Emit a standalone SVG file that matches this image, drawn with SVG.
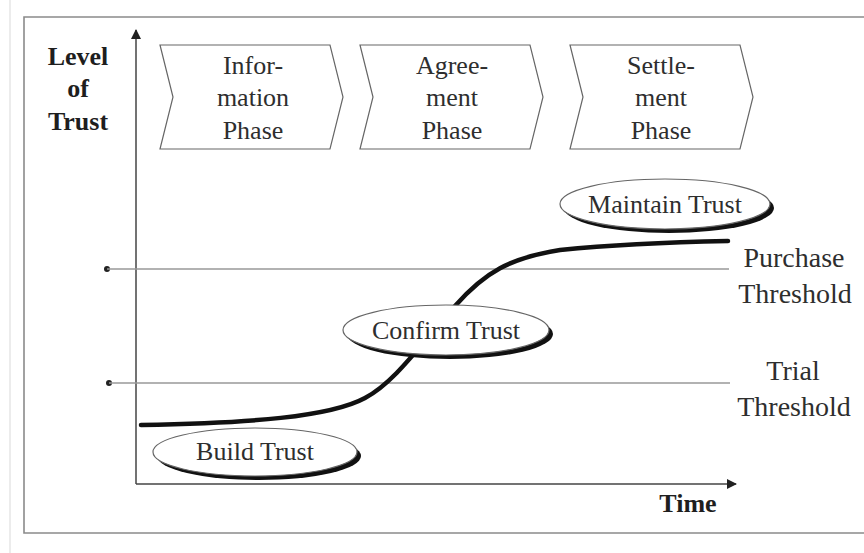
<svg xmlns="http://www.w3.org/2000/svg" width="864" height="553" viewBox="0 0 864 553">
  <defs>
    <marker id="arrow" viewBox="0 0 10 10" refX="9" refY="5" markerWidth="10" markerHeight="10" markerUnits="userSpaceOnUse" orient="auto">
      <path d="M0,0 L10,5 L0,10 z" fill="#222"/>
    </marker>
  </defs>
  <style>
    text { font-family: "Liberation Serif", "Times New Roman", serif; fill: #2e2e2e; }
    .axisLabel { font-weight: bold; font-size: 26px; fill: #1e1e1e; }
    .phase { font-size: 26px; text-anchor: middle; }
    .chev { fill: #fff; stroke: #666; stroke-width: 1.2; }
    .thr { stroke: #999; stroke-width: 1.3; fill: none; }
    .thrLabel { font-size: 28px; text-anchor: middle; }
    .ovalShadow { fill: #111; }
    .oval { fill: #fff; stroke: #666; stroke-width: 1.2; }
    .ovalText { font-size: 26px; text-anchor: middle; }
    .axis { stroke: #444; stroke-width: 1.5; fill: none; }
  </style>

  <rect width="864" height="553" fill="#fff"/>
  <!-- paper edge -->
  <line x1="10" y1="0" x2="10" y2="553" stroke="#e6e6e6" stroke-width="1.5"/>
  <!-- outer frame -->
  <path d="M864,17 H24 V533 H864" fill="none" stroke="#8a8a8a" stroke-width="1.6"/>

  <!-- axes -->
  <g id="axes">
    <line class="axis" x1="136" y1="484" x2="136" y2="30" marker-end="url(#arrow)"/>
    <line class="axis" x1="136" y1="484" x2="736" y2="484" marker-end="url(#arrow)"/>
    <text class="axisLabel" x="78" y="65" text-anchor="middle">Level</text>
    <text class="axisLabel" x="78" y="97" text-anchor="middle">of</text>
    <text class="axisLabel" x="78" y="130" text-anchor="middle">Trust</text>
    <text class="axisLabel" x="688" y="512" text-anchor="middle">Time</text>
  </g>

  <!-- phases -->
  <g id="phase-information">
    <path class="chev" d="M160,45 H330 L343,97 L330,149 H160 L173,97 z"/>
    <text class="phase" x="253" y="74">Infor-</text>
    <text class="phase" x="253" y="106">mation</text>
    <text class="phase" x="253" y="139">Phase</text>
  </g>
  <g id="phase-agreement">
    <path class="chev" d="M360,45 H530 L543,97 L530,149 H360 L373,97 z"/>
    <text class="phase" x="452" y="74">Agree-</text>
    <text class="phase" x="452" y="106">ment</text>
    <text class="phase" x="452" y="139">Phase</text>
  </g>
  <g id="phase-settlement">
    <path class="chev" d="M570,45 H740 L753,97 L740,149 H570 L583,97 z"/>
    <text class="phase" x="661" y="74">Settle-</text>
    <text class="phase" x="661" y="106">ment</text>
    <text class="phase" x="661" y="139">Phase</text>
  </g>

  <!-- thresholds -->
  <g id="threshold-purchase">
    <circle cx="107" cy="269" r="3" fill="#222"/>
    <line class="thr" x1="107" y1="269" x2="729" y2="269"/>
    <text class="thrLabel" x="794" y="267">Purchase</text>
    <text class="thrLabel" x="795" y="303">Threshold</text>
  </g>
  <g id="threshold-trial">
    <circle cx="109" cy="383" r="3" fill="#222"/>
    <line class="thr" x1="109" y1="383" x2="730" y2="383"/>
    <text class="thrLabel" x="793" y="380">Trial</text>
    <text class="thrLabel" x="794" y="416">Threshold</text>
  </g>

  <!-- trust curve -->
  <g id="connectors">
    <path d="M141,425 C250,423 330,417 365,398 C395,382 420,345 455,306 C485,272 510,258 560,250 C620,244 680,242 728,241" fill="none" stroke="#111" stroke-width="4.5" stroke-linecap="round"/>
  </g>

  <!-- stages -->
  <g id="stage-build">
    <ellipse class="ovalShadow" cx="259" cy="456" rx="102" ry="24"/>
    <ellipse class="oval" cx="255" cy="452" rx="102" ry="24"/>
    <text class="ovalText" x="255" y="460">Build Trust</text>
  </g>
  <g id="stage-confirm">
    <ellipse class="ovalShadow" cx="450" cy="334" rx="103" ry="25"/>
    <ellipse class="oval" cx="446" cy="330" rx="103" ry="25"/>
    <text class="ovalText" x="446" y="339">Confirm Trust</text>
  </g>
  <g id="stage-maintain">
    <ellipse class="ovalShadow" cx="669" cy="208" rx="105" ry="25"/>
    <ellipse class="oval" cx="665" cy="204" rx="105" ry="25"/>
    <text class="ovalText" x="665" y="213">Maintain Trust</text>
  </g>
</svg>
